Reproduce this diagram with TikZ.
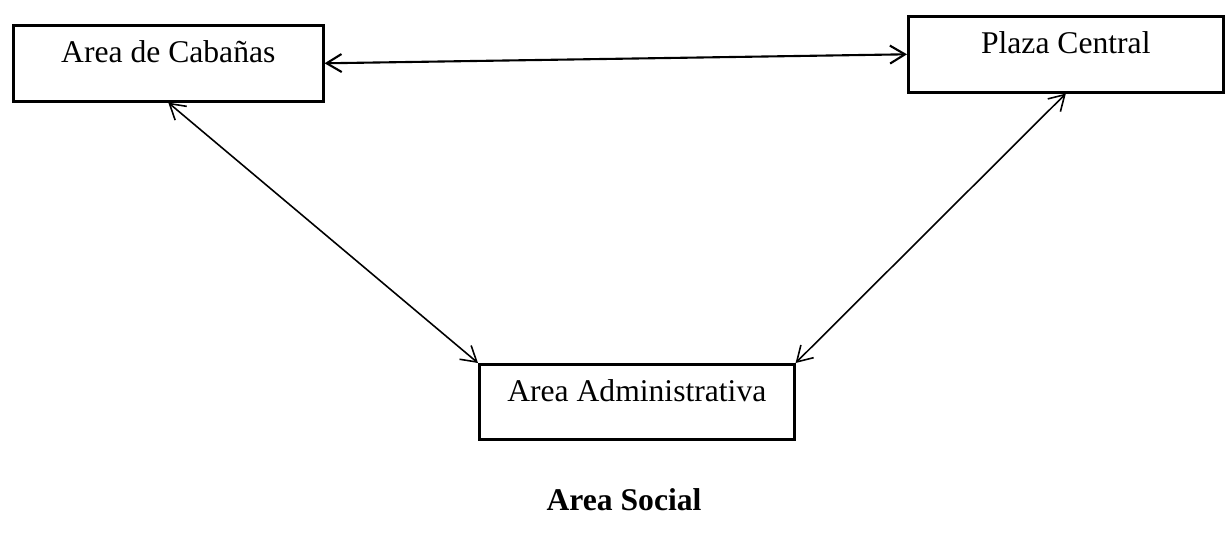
\documentclass[tikz,border=0pt]{standalone}
\usepackage{fontspec}
\setmainfont{Liberation Serif}
\usetikzlibrary{positioning,arrows.meta}

\begin{document}
\begin{tikzpicture}[x=0.02cm, y=-0.02cm, font=\fontsize{18}{21}\selectfont,
          >={Straight Barb[length=3mm,width=3.6mm]},
          area/.style={draw, line width=1.5pt, anchor=north west, inner sep=0pt,
                       minimum width=6.3cm, text height=0.74cm, text depth=0.78cm},
          link/.style={<->, line width=0.9pt}]
        \useasboundingbox (0,0) rectangle (1226,546);
        \node[area, minimum width=6.2cm] (cab)   at (12,24)  {Area de Cabañas};
        \node[area]                      (plaza) at (907,15) {Plaza Central};
        \node[area, text depth=0.76cm]   (adm)   at (478,363) {Area Administrativa};
        \draw[link, line width=1.2pt] (cab.east) -- (plaza.west);
        \draw[link] (cab.south) -- (adm.north west);
        \draw[link] (plaza.south) -- (adm.north east);

        \node[font=\fontsize{18}{21}\selectfont\bfseries] (social) at (624,500) {Area Social};
      \end{tikzpicture}
\end{document}
